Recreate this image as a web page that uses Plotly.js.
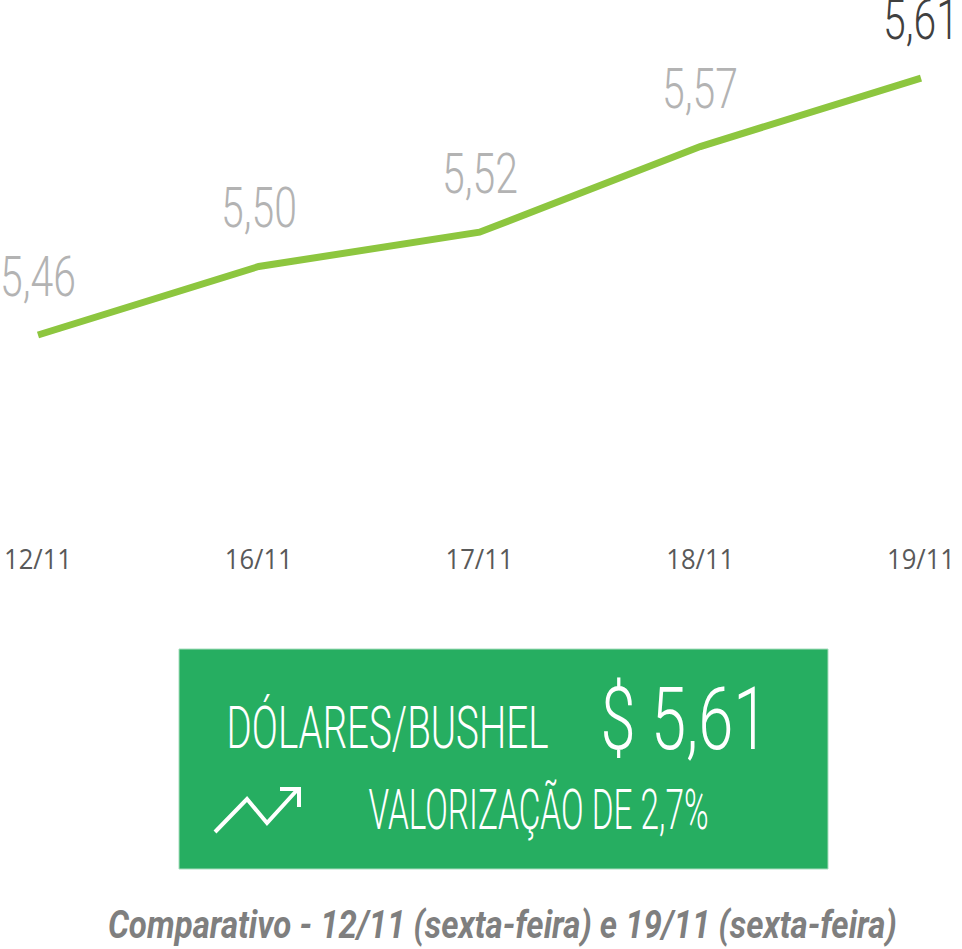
<!DOCTYPE html>
<html>
<head>
<meta charset="utf-8">
<script src="https://cdn.plot.ly/plotly-3.0.1.min.js"></script>
<style>
html,body{margin:0;padding:0;background:#fff;}
#chart{width:962px;height:949px;}
</style>
</head>
<body>
<div id="chart"></div>
<script>
// ---- data ----
const dates = ['12/11', '16/11', '17/11', '18/11', '19/11'];
const prices = [5.46, 5.50, 5.52, 5.57, 5.61];
const priceLabels = ['5,46', '5,50', '5,52', '5,57', '5,61'];
const boxTitle = 'DÓLARES/BUSHEL';
const boxValue = '$ 5,61';
const boxChange = 'VALORIZAÇÃO DE 2,7%';
const footerText = 'Comparativo - 12/11 (sexta-feira) e 19/11 (sexta-feira)';

// ---- layout helpers (pixel -> paper) ----
const W = 962, H = 949, plotH = 540;
const px = x => x / W;
const py = y => (plotH - y) / plotH;

const xIdx = dates.map((d, i) => i);

const trace = {
  x: xIdx,
  y: prices,
  mode: 'lines',
  line: {color: '#8DC63F', width: 7},
  hoverinfo: 'skip',
  showlegend: false
};

const annotations = [];
const targets = [];
prices.forEach((p, i) => {
  const last = i === prices.length - 1;
  annotations.push({
    x: xIdx[i], y: p, xref: 'x', yref: 'y',
    text: priceLabels[i], showarrow: false,
    xanchor: 'center', yanchor: 'middle', yshift: 58,
    font: {family: 'Roboto', size: 56, weight: 300, color: last ? '#404040' : '#B3B3B3'}
  });
  targets.push(76);
});
annotations.push({
  x: px(387), y: py(727), xref: 'paper', yref: 'paper', text: boxTitle, showarrow: false,
  xanchor: 'center', yanchor: 'middle',
  font: {family: 'Roboto', size: 59, weight: 300, color: '#FFFFFF'}
});
targets.push(322);
annotations.push({
  x: px(684), y: py(719), xref: 'paper', yref: 'paper', text: boxValue, showarrow: false,
  xanchor: 'center', yanchor: 'middle',
  font: {family: 'Roboto', size: 87, weight: 300, color: '#FFFFFF'}
});
targets.push(168);
annotations.push({
  x: px(538), y: py(810), xref: 'paper', yref: 'paper', text: boxChange, showarrow: false,
  xanchor: 'center', yanchor: 'middle',
  font: {family: 'Roboto', size: 55, weight: 300, color: '#FFFFFF'}
});
targets.push(340);
annotations.push({
  x: px(502), y: py(925), xref: 'paper', yref: 'paper', text: footerText, showarrow: false,
  xanchor: 'center', yanchor: 'middle',
  font: {family: 'Roboto', size: 39, weight: 700, style: 'italic', color: '#7F7F7F'}
});
targets.push(789);

const shapes = [
  {type: 'rect', xref: 'paper', yref: 'paper', x0: px(179), x1: px(828), y0: py(869), y1: py(649),
   fillcolor: '#26AE61', line: {color: '#A8DDBE', width: 1}, layer: 'below'},
  {type: 'path', xref: 'paper', yref: 'paper',
   path: `M ${px(215)} ${py(832)} L ${px(247)} ${py(799)} L ${px(267)} ${py(823)} L ${px(298)} ${py(789)}`,
   line: {color: '#FFFFFF', width: 4}},
  {type: 'path', xref: 'paper', yref: 'paper',
   path: `M ${px(280)} ${py(789)} L ${px(299)} ${py(789)} L ${px(299)} ${py(807)}`,
   line: {color: '#FFFFFF', width: 4}}
];

const layout = {
  width: W, height: H,
  margin: {l: 0, r: 0, t: 0, b: H - plotH, pad: 0},
  paper_bgcolor: '#FFFFFF', plot_bgcolor: '#FFFFFF',
  xaxis: {
    range: [-38 / 220.75, 4 + 41 / 220.75],
    tickvals: xIdx, ticktext: dates,
    showgrid: false, zeroline: false, showline: false, ticks: '',
    tickfont: {family: 'Open Sans', size: 28, color: '#595959'},
    fixedrange: true
  },
  yaxis: {
    range: [5.46 - 205 / 1713, 5.46 + 335 / 1713],
    visible: false, showgrid: false, zeroline: false, fixedrange: true
  },
  annotations: annotations,
  shapes: shapes,
  showlegend: false
};

function condense(el, s) {
  const bb = el.getBBox();
  const cx = bb.x + bb.width / 2;
  const t = el.getAttribute('transform') || '';
  el.setAttribute('transform', `${t} translate(${cx},0) scale(${s},1) translate(${-cx},0)`);
}

Plotly.newPlot('chart', [trace], layout, {displayModeBar: false, staticPlot: true}).then(gd => {
  gd.querySelectorAll('.annotation').forEach(g => {
    const i = +g.getAttribute('data-index');
    const t = g.querySelector('.annotation-text');
    if (!t || targets[i] === undefined) return;
    const w = t.getBBox().width;
    condense(t, targets[i] / w);
  });
  const ticks = gd.querySelectorAll('.xtick text');
  if (ticks.length) {
    const s = 68 / ticks[0].getBBox().width;
    ticks.forEach(t => condense(t, s));
  }
});
</script>
</body>
</html>
